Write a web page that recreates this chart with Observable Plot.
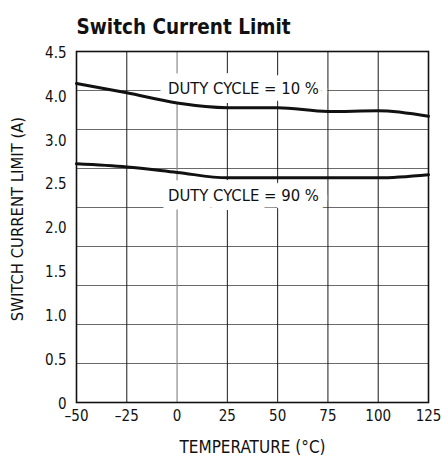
<!DOCTYPE html>
<html>
<head>
<meta charset="utf-8">
<script src="https://cdn.jsdelivr.net/npm/d3@7"></script>
<script src="https://cdn.jsdelivr.net/npm/@observablehq/plot@0.6"></script>
<style>
  html, body { margin: 0; padding: 0; background: #fff; }
  #chart svg { display: block; }
</style>
</head>
<body>
<div id="chart"></div>
<script>
const temperature = [-50, -25, 0, 25, 50, 75, 100, 125];
const duty10 = [4.09, 3.97, 3.84, 3.78, 3.78, 3.73, 3.74, 3.67];
const duty90 = [3.06, 3.02, 2.95, 2.88, 2.88, 2.88, 2.88, 2.92];
const seriesLabels = ["DUTY CYCLE = 10 %", "DUTY CYCLE = 90 %"];
const labelTemp = [33, 33];
const labelValue = [4.0, 2.62];
const xTicks = [-50, -25, 0, 25, 50, 75, 100, 125];
const yTickLabels = ["0", "0.5", "1.0", "1.5", "2.0", "2.5", "3.0", "4.0", "4.5"];
const yGrid = [0.5, 1, 1.5, 2, 2.5, 3, 3.5, 4];
const xGridDark = [-25, 25, 50, 75, 100];
const xGridLight = [0];

const font = "'Liberation Sans Narrow', 'DejaVu Sans Condensed', 'Arial Narrow', sans-serif";
const yMax = 4.5;
const yTickPos = yTickLabels.map((_, i) => i * yMax / (yTickLabels.length - 1));

const rows = [];
temperature.forEach((t, i) => {
  rows.push({t, v: duty10[i], s: "10"});
  rows.push({t, v: duty90[i], s: "90"});
});
const labels = seriesLabels.map((text, i) => ({text, t: labelTemp[i], v: labelValue[i]}));

const chart = Plot.plot({
  width: 443,
  height: 458,
  marginTop: 51,
  marginBottom: 56,
  marginLeft: 76,
  marginRight: 15,
  style: {fontFamily: font, background: "#fff", color: "#111"},
  x: {domain: [-50, 125]},
  y: {domain: [0, yMax]},
  marks: [
    Plot.ruleY(yGrid, {stroke: "#6a6a6a", strokeWidth: 1}),
    Plot.ruleX(xGridDark, {stroke: "#1a1a1a", strokeWidth: 1}),
    Plot.ruleX(xGridLight, {stroke: "#8a8a8a", strokeWidth: 1.2}),
    Plot.text(labels, {x: "t", y: "v", text: "text", fontSize: 16.5, fill: "#111",
      stroke: "#fff", strokeWidth: 18, strokeLinejoin: "round", dy: -2}),
    Plot.line(rows, {x: "t", y: "v", z: "s", stroke: "#111", strokeWidth: 3, curve: "monotone-x"}),
    Plot.frame({stroke: "#111", strokeWidth: 1.6}),
    Plot.axisX({ticks: xTicks, tickSize: 0, tickPadding: 8, fontSize: 15,
      tickFormat: d => d < 0 ? "\u2013" + (-d) : String(d), label: null}),
    Plot.axisY({ticks: yTickPos, tickSize: 0, tickPadding: 10, fontSize: 15, dy: 1.5,
      tickFormat: d => yTickLabels[Math.round(d * (yTickLabels.length - 1) / yMax)], label: null}),
    Plot.text(["TEMPERATURE (\u00B0C)"], {frameAnchor: "bottom", dy: 50, fontSize: 17, fill: "#111"}),
    Plot.text(["SWITCH CURRENT LIMIT (A)"], {frameAnchor: "left", textAnchor: "middle", dx: -59, dy: -8,
      rotate: -90, fontSize: 16.5, fill: "#111"}),
    Plot.text(["Switch Current Limit"], {frameAnchor: "top-left", textAnchor: "start", dy: -32, dx: 0,
      fontSize: 20.5, fontWeight: "bold", fill: "#111"})
  ]
});
document.getElementById("chart").appendChild(chart);
</script>
</body>
</html>
